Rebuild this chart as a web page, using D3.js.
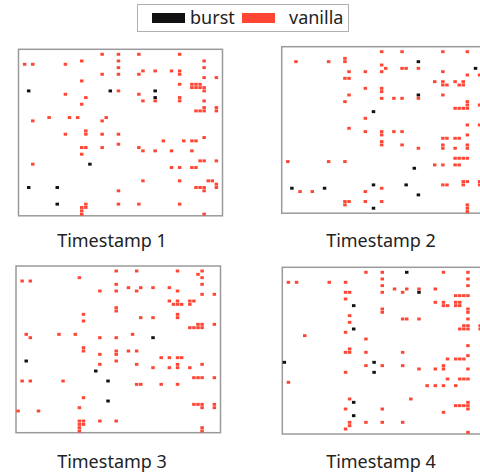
<!DOCTYPE html>
<html>
<head>
<meta charset="utf-8">
<script src="https://cdn.jsdelivr.net/npm/d3@7"></script>
<style>
  body { margin: 0; background: #fff; }
  text { font-family: "Noto Sans", sans-serif; fill: #222; }
</style>
</head>
<body>
<script>
//Grid size of every snapshot (cols x rows)
var gridCols = 50;
var gridRows = 50;

//Series names for the legend
var seriesNames = ["burst", "vanilla"];

//Panel titles
var titles = ["Timestamp 1", "Timestamp 2", "Timestamp 3", "Timestamp 4"];

//Active cells per timestamp, [col, row]
var t1Vanilla = [
  [20,1],[24,1],[29,1],[39,1],[15,3],[24,3],[45,3],[1,4],[3,4],[11,4],[24,5],[45,5],
  [30,6],[33,6],[37,6],[39,6],[20,7],[24,7],[29,7],[39,7],[45,8],[48,8],[15,9],
  [39,10],[42,10],[43,10],[44,10],[42,11],[43,11],[44,11],[45,11],[24,12],[45,12],
  [11,13],[29,13],[16,14],[39,14],[30,15],[33,15],[39,15],[45,15],[15,16],
  [45,17],[48,17],[43,18],[44,18],[45,18],[48,18],[7,20],[12,20],[14,20],[21,20],
  [3,21],[20,21],[16,24],[11,25],[16,25],[20,25],[24,25],[45,26],
  [35,27],[40,27],[42,27],[43,27],[24,28],[15,29],[16,29],[20,29],[29,29],
  [30,30],[33,30],[37,30],[42,30],[15,31],[44,33],[45,33],[48,33],[3,34],
  [37,35],[39,35],[42,35],[43,35],[30,39],[39,39],[46,39],[47,39],[48,40],
  [43,41],[44,41],[45,41],[48,41],[24,42],[45,42],[16,46],[24,46],[29,46],[39,46],
  [16,47],[15,47],[15,48],[15,49],[45,49]
];
var t1Burst = [[2,12],[22,12],[33,12],[33,14],[17,34],[2,41],[9,41],[9,46]];

var t2Vanilla = [
  [24,1],[29,1],[39,1],[45,1],[15,3],[3,4],[11,4],[15,4],[24,5],[25,6],[29,6],[30,6],[33,6],
  [16,7],[20,7],[24,7],[39,7],[45,8],[48,8],[15,9],[16,9],[37,10],[39,10],[42,10],[44,10],
  [39,11],[40,11],[43,11],[44,11],[20,12],[24,12],[24,13],[16,14],[39,14],
  [24,15],[27,15],[29,15],[33,15],[15,16],[45,16],[45,17],[48,17],[42,18],[43,18],[44,18],[45,18],
  [20,21],[45,23],[48,23],[16,24],[20,25],[24,25],[27,25],[29,25],[24,26],[45,26],
  [39,27],[40,27],[42,27],[43,27],[24,28],[24,29],[29,29],[39,29],[45,29],
  [33,30],[39,30],[42,30],[45,30],[42,33],[43,33],[44,33],[45,33],[1,34],[11,34],[15,34],
  [37,35],[39,35],[42,35],[43,35],[44,40],[45,40],[48,40],[39,41],[40,41],[44,41],[48,41],
  [24,42],[4,43],[7,43],[20,43],[15,46],[16,46],[20,46],[24,46],[15,47],[45,47],[45,48],[45,49]
];
var t2Burst = [[33,4],[47,6],[33,14],[22,19],[32,36],[22,41],[30,41],[2,42],[10,42],[33,44],[22,48]];

var t3Vanilla = [
  [24,1],[29,1],[39,1],[45,1],[44,2],[15,3],[45,3],[1,4],[3,4],[24,5],[45,5],
  [27,6],[30,6],[33,6],[37,6],[20,7],[24,7],[29,7],[39,7],[45,8],[48,8],
  [37,10],[39,10],[42,10],[43,10],[38,11],[39,11],[40,11],[42,11],[24,12],[24,13],
  [16,14],[39,14],[30,15],[33,15],[39,15],[16,16],[44,17],[45,17],[48,17],
  [42,18],[43,18],[44,18],[45,18],[2,20],[10,20],[14,20],[28,20],[3,21],[20,21],[24,21],
  [16,24],[16,25],[24,25],[27,25],[29,25],[20,26],[24,26],[35,27],[37,27],[39,27],[40,27],
  [24,28],[20,29],[29,29],[39,29],[45,29],[33,30],[37,30],[39,30],[42,30],
  [43,33],[44,33],[45,33],[48,33],[1,34],[3,34],[11,34],[29,35],[30,35],[35,35],[39,35],
  [16,39],[43,41],[44,41],[45,41],[48,41],[15,42],[45,42],[48,42],[0,43],[5,43],
  [15,46],[16,46],[20,46],[24,46],[15,47],[16,47],[15,48],[45,48],[15,49],[45,49]
];
var t3Burst = [[33,21],[2,28],[19,31],[22,34],[22,40]];

var t4Vanilla = [
  [20,1],[24,1],[39,1],[45,1],[24,3],[45,3],[1,4],[3,4],[11,4],[15,4],[24,5],[45,5],
  [27,6],[30,6],[33,6],[37,6],[15,7],[16,7],[24,7],[29,7],[42,8],[43,8],[44,8],[45,8],
  [15,9],[37,10],[39,10],[42,10],[43,10],[39,11],[40,11],[42,11],[43,11],
  [24,12],[45,12],[24,13],[45,13],[16,14],[29,15],[30,15],[33,15],[45,15],[16,16],
  [44,17],[45,17],[48,17],[43,18],[44,18],[45,18],[48,18],[15,19],[5,20],[20,21],
  [45,23],[16,24],[15,25],[16,25],[20,25],[29,25],[45,26],[40,27],[42,27],[43,27],[44,27],
  [20,29],[24,29],[29,29],[39,29],[33,30],[37,30],[39,30],[45,30],[15,31],
  [40,33],[43,33],[44,33],[45,33],[1,34],[35,35],[37,35],[39,35],[42,35],
  [16,39],[31,39],[45,40],[42,41],[43,41],[44,41],[45,41],[15,42],[24,42],[45,42],[39,43],
  [16,46],[20,46],[24,46],[29,46],[16,47],[15,48],[45,49]
];
var t4Burst = [[30,1],[33,7],[17,11],[17,18],[0,28],[22,28],[22,31],[17,40],[17,44]];

var vanillaSets = [t1Vanilla, t2Vanilla, t3Vanilla, t4Vanilla];
var burstSets = [t1Burst, t2Burst, t3Burst, t4Burst];

//Width and height
var w = 480;
var h = 473;

var colors = {burst: "#111111", vanilla: "#ff4533"};

//Panel boxes
var panels = [
  {x: 18.5, y: 49.3, w: 204, h: 166.5, tx: 112, ty: 247},
  {x: 281.7, y: 46.7, w: 204, h: 166.5, tx: 381, ty: 247},
  {x: 16, y: 266, w: 204.5, h: 166.7, tx: 112, ty: 468},
  {x: 282.3, y: 267.3, w: 204, h: 166.7, tx: 381, ty: 468}
];

var svg = d3.select("body")
            .append("svg")
            .attr("width", w)
            .attr("height", h);

panels.forEach((p, i) => {
    var xs = d3.scaleBand().domain(d3.range(gridCols)).range([p.x, p.x + p.w]);
    var ys = d3.scaleBand().domain(d3.range(gridRows)).range([p.y, p.y + p.h]);

    var g = svg.append("g");

    g.append("rect")
     .attr("x", p.x)
     .attr("y", p.y)
     .attr("width", p.w)
     .attr("height", p.h)
     .attr("fill", "#fff")
     .attr("stroke", "#9a9a9a")
     .attr("stroke-width", 1.5);

    [["vanilla", vanillaSets[i]], ["burst", burstSets[i]]].forEach((s) => {
        g.selectAll("rect." + s[0])
         .data(s[1])
         .enter()
         .append("rect")
         .attr("class", s[0])
         .attr("x", (d) => xs(d[0]) + 0.3)
         .attr("y", (d) => ys(d[1]) + 0.2)
         .attr("width", xs.bandwidth() - 0.6)
         .attr("height", ys.bandwidth() - 0.4)
         .attr("fill", colors[s[0]]);
    });

    svg.append("text")
       .attr("x", p.tx)
       .attr("y", p.ty)
       .attr("text-anchor", "middle")
       .attr("font-size", "18px")
       .text(titles[i]);
});

//Legend
var legend = svg.append("g");
legend.append("rect")
      .attr("x", 137.5)
      .attr("y", 4.5)
      .attr("width", 211)
      .attr("height", 27)
      .attr("fill", "#fff")
      .attr("stroke", "#b0b0b0")
      .attr("stroke-width", 1);

var legendX = [152, 242];
var legendTextX = [190, 289];
seriesNames.forEach((name, i) => {
    legend.append("rect")
          .attr("x", legendX[i])
          .attr("y", 13)
          .attr("width", 33)
          .attr("height", 10)
          .attr("fill", colors[name]);
    legend.append("text")
          .attr("x", legendTextX[i])
          .attr("y", 24)
          .attr("font-size", "18px")
          .text(name);
});
</script>
</body>
</html>
